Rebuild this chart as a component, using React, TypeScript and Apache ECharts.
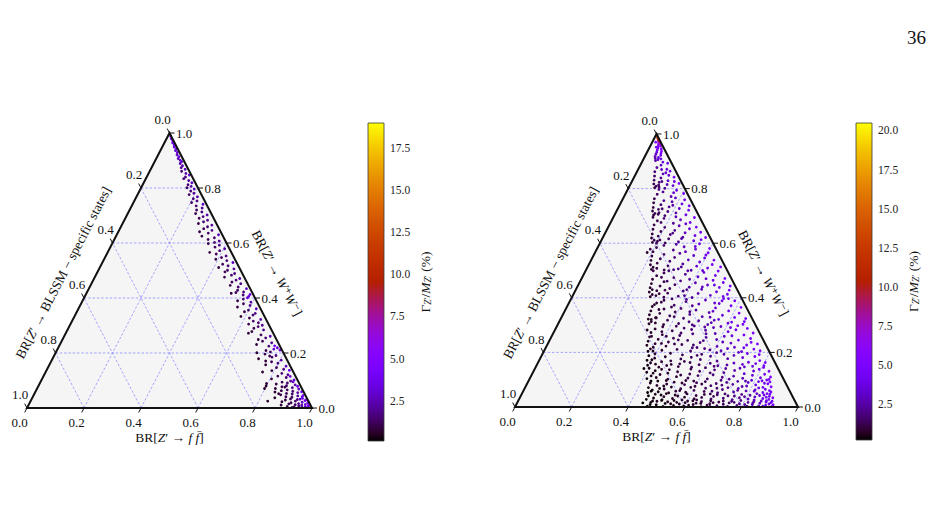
import React, { useEffect, useRef } from 'react';
import * as echarts from 'echarts';

// ---- axis / tick data ----
const ternaryTicks = [0, 0.2, 0.4, 0.6, 0.8, 1.0];
const ternaryTickLabels = ['0.0', '0.2', '0.4', '0.6', '0.8', '1.0'];
const ternaryGridValues = [0.2, 0.4, 0.6, 0.8];
const leftCbTicks = [2.5, 5.0, 7.5, 10.0, 12.5, 15.0, 17.5];
const rightCbTicks = [2.5, 5.0, 7.5, 10.0, 12.5, 15.0, 17.5, 20.0];
const leftCbRange = [0.11, 18.96];
const rightCbRange = [0.23, 20.47];
const pageNumber = '36';

// ---- points: [BR(Z'->BLSSM specific states), BR(Z'->W+W-), Gamma/M (%)] ----
const leftPoints: number[][] = [
  [0.002,0.988,4.3],[0.004,0.979,3.9],[0.003,0.971,4.1],[0.007,0.964,3.5],[0.005,0.957,3.8],[0.009,0.949,3.2],[0.006,0.942,3.6],[0.011,0.936,2.9],[0.008,0.929,3.3],[0.013,0.921,2.7],[0.01,0.914,3.0],[0.016,0.907,2.5],[0.012,0.901,2.9],
  [0.009,0.896,3.0],[0.018,0.889,2.2],[0.014,0.881,2.5],[0.022,0.874,1.9],[0.011,0.868,2.7],[0.027,0.861,1.7],[0.016,0.853,2.3],[0.007,0.847,3.1],[0.024,0.84,1.8],[0.033,0.834,1.5],[0.019,0.827,2.1],[0.012,0.819,2.6],[0.029,0.812,1.6],[0.021,0.806,2.0],[0.038,0.801,1.3],
  [0.015,0.796,2.4],[0.031,0.789,1.6],[0.024,0.781,1.9],[0.043,0.776,1.3],[0.018,0.768,2.2],[0.036,0.761,1.5],[0.027,0.753,1.8],[0.049,0.747,1.2],[0.012,0.741,2.7],[0.039,0.735,1.4],[0.022,0.727,2.0],[0.045,0.72,1.3],[0.03,0.713,1.7],[0.055,0.707,1.1],[0.017,0.702,2.3],
  [0.034,0.696,1.6],[0.051,0.69,1.2],[0.025,0.683,1.9],[0.042,0.677,1.4],[0.063,0.671,1.0],[0.019,0.665,2.2],[0.037,0.659,1.5],[0.054,0.652,1.2],[0.028,0.646,1.8],[0.074,0.641,0.9],[0.046,0.636,1.3],[0.013,0.63,2.6],[0.074,0.625,1.0],[0.033,0.619,1.6],[0.058,0.613,1.1],[0.022,0.607,2.0],[0.041,0.602,1.4],
  [0.065,0.598,1.0],[0.029,0.592,1.7],[0.048,0.585,1.3],[0.017,0.579,2.3],[0.076,0.566,0.9],[0.038,0.572,1.5],[0.056,0.56,1.2],[0.025,0.553,1.9],[0.044,0.547,1.4],[0.067,0.541,1.0],[0.031,0.536,1.6],[0.013,0.529,2.6],[0.052,0.523,1.2],[0.036,0.517,1.5],[0.072,0.511,0.9],[0.021,0.506,2.1],[0.046,0.501,1.3],
  [0.058,0.495,1.1],[0.027,0.489,1.8],[0.041,0.483,1.4],[0.069,0.476,1.0],[0.018,0.471,2.3],[0.034,0.465,1.6],[0.052,0.458,1.2],[0.024,0.452,1.9],[0.064,0.446,1.0],[0.039,0.44,1.5],[0.013,0.434,2.8],[0.047,0.428,1.3],[0.029,0.422,1.7],[0.075,0.417,0.9],[0.036,0.411,1.5],[0.019,0.406,3.4],[0.011,0.413,3.9],[0.026,0.401,3.0],[0.057,0.42,1.1],
  [0.043,0.396,1.4],[0.066,0.39,1.0],[0.022,0.385,2.1],[0.051,0.379,1.2],[0.031,0.373,1.7],[0.078,0.367,0.9],[0.015,0.361,2.6],[0.045,0.356,1.3],[0.062,0.35,1.0],[0.027,0.344,1.8],[0.038,0.338,1.5],[0.083,0.333,0.8],[0.056,0.327,1.1],[0.019,0.322,2.3],[0.048,0.316,1.3],[0.033,0.31,1.6],[0.07,0.305,1.0],[0.024,0.301,2.0],
  [0.087,0.272,0.8],[0.041,0.296,1.4],[0.059,0.29,1.1],[0.028,0.284,1.8],[0.072,0.278,0.9],[0.046,0.266,1.3],[0.016,0.261,2.5],[0.035,0.255,1.6],[0.064,0.249,1.0],[0.052,0.243,1.2],[0.023,0.237,2.0],[0.079,0.231,0.9],[0.039,0.225,1.5],[0.012,0.219,3.4],[0.027,0.214,3.0],[0.057,0.209,1.1],[0.044,0.204,1.3],[0.093,0.201,0.8],[0.018,0.226,3.8],[0.007,0.211,4.2],
  [0.067,0.196,1.0],[0.031,0.191,1.7],[0.048,0.185,1.3],[0.098,0.179,0.7],[0.021,0.174,2.2],[0.058,0.168,1.1],[0.038,0.163,1.5],[0.084,0.157,0.8],[0.015,0.152,2.7],[0.051,0.147,1.2],[0.029,0.141,1.8],[0.073,0.136,0.9],[0.108,0.131,0.7],[0.043,0.126,1.4],[0.024,0.121,2.0],[0.062,0.116,1.0],[0.035,0.111,1.6],[0.089,0.106,0.8],[0.012,0.102,3.1],[0.054,0.189,1.2],[0.011,0.137,3.6],[0.077,0.171,0.9],[0.019,0.115,2.9],
  [0.026,0.098,1.9],[0.058,0.094,1.1],[0.115,0.089,0.7],[0.041,0.091,1.4],[0.082,0.087,0.9],[0.017,0.084,2.4],[0.049,0.081,1.3],[0.121,0.08,0.6],[0.067,0.077,1.0],[0.032,0.074,1.7],[0.093,0.071,0.8],[0.012,0.069,2.9],[0.054,0.066,1.2],[0.076,0.063,0.9],[0.037,0.061,1.6],[0.101,0.058,0.7],[0.022,0.056,2.2],[0.063,0.053,1.1],[0.044,0.051,1.4],[0.086,0.048,0.9],[0.008,0.046,3.6],[0.028,0.044,2.0],[0.071,0.041,1.0],[0.051,0.039,1.3],[0.112,0.037,0.7],[0.016,0.035,3.0],[0.059,0.033,1.2],[0.036,0.031,1.7],[0.079,0.029,0.9],[0.143,0.025,0.6],[0.011,0.027,3.5],[0.046,0.025,1.5],[0.094,0.023,0.8],[0.024,0.021,2.6],[0.064,0.019,1.1],[0.006,0.018,4.2],[0.039,0.016,1.8],[0.074,0.015,1.0],[0.017,0.013,3.3],[0.053,0.012,1.4],[0.103,0.011,0.8],[0.031,0.01,2.3],[0.009,0.008,4.4],[0.043,0.007,1.7],[0.084,0.006,1.0],[0.021,0.005,3.1],[0.061,0.004,1.3],[0.004,0.003,5.0],[0.034,0.003,2.3],[0.013,0.002,4.0],[0.069,0.002,1.2],[0.007,0.059,4.0],[0.014,0.041,3.7],[0.004,0.031,4.8],[0.003,0.012,5.2],[0.002,0.022,5.4],[0.026,0.032,2.6],[0.091,0.052,0.8],[0.057,0.076,1.1],[0.131,0.071,0.6],[0.019,0.095,2.7],[0.011,0.079,3.4],
];

const rightPoints: number[][] = [
  [0.531,0.003,0.3],[0.512,0.017,0.4],[0.497,0.008,0.4],[0.488,0.021,0.6],[0.476,0.002,0.5],[0.463,0.013,0.4],[0.451,0.019,0.7],[0.437,0.006,0.6],[0.426,0.024,0.5],[0.414,0.011,0.8],[0.402,0.004,0.7],[0.391,0.016,0.6],[0.379,0.022,0.9],[0.366,0.009,0.8],[0.353,0.014,1.0],[0.342,0.001,0.7],[0.331,0.02,1.1],[0.318,0.007,1.0],[0.306,0.012,1.2],[0.297,0.023,0.9],[0.284,0.005,1.4],[0.271,0.018,1.2],[0.259,0.01,1.5],[0.248,0.002,1.7],[0.236,0.015,1.4],[0.224,0.021,1.9],[0.213,0.006,1.8],[0.201,0.012,2.1],[0.19,0.024,2.0],[0.179,0.003,2.4],[0.168,0.017,2.3],[0.157,0.009,2.7],[0.146,0.02,2.8],[0.137,0.004,3.1],[0.128,0.014,3.2],[0.119,0.022,3.4],[0.111,0.007,3.8],[0.104,0.018,3.6],[0.097,0.011,4.1],[0.092,0.002,4.4],[0.088,0.016,4.3],[0.084,0.008,4.7],[0.081,0.021,4.5],[0.518,0.009,0.3],[0.47,0.024,0.5],[0.444,0.012,0.6],[0.383,0.007,0.7],[0.337,0.013,0.9],[0.292,0.016,1.1],[0.253,0.022,1.3],[0.217,0.017,1.6],[0.184,0.009,2.2],[0.152,0.015,2.5],[0.123,0.003,3.5],[0.1,0.023,3.9],[0.541,0.015,0.3],[0.503,0.022,0.5],[0.42,0.017,0.6],[0.36,0.023,0.8],[0.31,0.002,1.0],
  [0.522,0.028,0.4],[0.508,0.041,0.3],[0.494,0.033,0.5],[0.481,0.047,0.6],[0.467,0.027,0.4],[0.455,0.038,0.7],[0.441,0.049,0.6],[0.428,0.031,0.8],[0.412,0.044,0.7],[0.397,0.026,0.9],[0.383,0.036,0.8],[0.368,0.048,1.0],[0.352,0.03,0.9],[0.339,0.042,1.1],[0.323,0.035,1.2],[0.308,0.046,1.0],[0.293,0.029,1.4],[0.279,0.039,1.3],[0.263,0.045,1.5],[0.248,0.032,1.7],[0.234,0.048,1.6],[0.219,0.027,2.0],[0.205,0.04,1.9],[0.19,0.034,2.3],[0.176,0.046,2.2],[0.162,0.029,2.7],[0.148,0.043,2.6],[0.134,0.037,3.1],[0.121,0.049,3.0],[0.109,0.031,3.6],[0.098,0.044,3.8],[0.089,0.028,4.3],[0.082,0.039,4.5],[0.076,0.047,4.8],[0.072,0.034,5.0],[0.085,0.049,4.2],[0.094,0.036,4.0],[0.115,0.042,3.3],[0.142,0.026,2.9],[0.17,0.038,2.4],[0.227,0.041,1.8],[0.286,0.048,1.3],[0.345,0.026,1.0],[0.405,0.04,0.7],[0.462,0.044,0.5],
  [0.505,0.053,0.3],[0.493,0.071,0.5],[0.484,0.062,0.4],[0.478,0.088,0.6],[0.466,0.056,0.5],[0.459,0.079,0.7],[0.448,0.095,0.5],[0.44,0.066,0.8],[0.431,0.052,0.6],[0.422,0.084,0.9],[0.411,0.073,0.7],[0.403,0.058,1.0],[0.392,0.091,0.8],[0.381,0.067,1.1],[0.37,0.054,0.9],[0.36,0.082,1.2],[0.348,0.097,1.0],[0.337,0.061,1.3],[0.326,0.076,1.1],[0.314,0.089,1.4],[0.303,0.057,1.2],[0.292,0.069,1.5],[0.281,0.093,1.3],[0.269,0.078,1.6],[0.258,0.052,1.8],[0.246,0.086,1.7],[0.235,0.064,2.0],[0.223,0.098,1.9],[0.212,0.071,2.2],[0.2,0.055,2.4],[0.189,0.083,2.3],[0.177,0.068,2.6],[0.166,0.094,2.5],[0.154,0.059,2.9],[0.143,0.077,3.0],[0.131,0.09,3.1],[0.12,0.063,3.5],[0.109,0.081,3.6],[0.098,0.053,4.0],[0.088,0.072,4.2],[0.079,0.096,4.1],[0.071,0.06,4.6],[0.064,0.085,4.7],[0.058,0.074,5.0],[0.053,0.092,5.2],[0.061,0.099,4.9],[0.068,0.055,4.8],[0.075,0.087,4.4],[0.083,0.065,4.3],[0.093,0.093,3.9],[0.104,0.07,3.8],[0.126,0.058,3.3],[0.138,0.095,2.8],[0.16,0.075,2.7],[0.183,0.061,2.4],[0.207,0.09,2.0],[0.229,0.08,1.9],[0.252,0.069,1.6],[0.275,0.058,1.5],[0.298,0.084,1.2],[0.321,0.095,1.1],[0.343,0.072,1.0],[0.366,0.088,0.9],[0.388,0.06,0.8],[0.417,0.097,0.7],[0.436,0.077,0.6],[0.455,0.068,0.5],[0.472,0.095,0.4],[0.49,0.058,0.4],[0.115,0.098,3.4],
  [0.482,0.104,0.4],[0.471,0.127,0.5],[0.462,0.114,0.6],[0.455,0.142,0.5],[0.447,0.108,0.7],[0.438,0.133,0.6],[0.428,0.119,0.8],[0.419,0.146,0.7],[0.409,0.102,0.9],[0.398,0.124,0.8],[0.386,0.137,1.0],[0.374,0.111,0.9],[0.361,0.129,1.1],[0.349,0.148,1.0],[0.336,0.106,1.2],[0.322,0.121,1.3],[0.309,0.139,1.2],[0.296,0.115,1.4],[0.282,0.131,1.5],[0.269,0.103,1.6],[0.255,0.144,1.5],[0.241,0.118,1.8],[0.227,0.136,1.9],[0.213,0.109,2.1],[0.199,0.126,2.2],[0.185,0.141,2.3],[0.171,0.113,2.6],[0.157,0.134,2.7],[0.143,0.105,3.0],[0.129,0.122,3.2],[0.116,0.147,3.1],[0.103,0.116,3.5],[0.091,0.132,3.7],[0.079,0.107,4.1],[0.068,0.138,4.2],[0.058,0.12,4.6],[0.049,0.145,4.7],[0.042,0.11,5.0],[0.037,0.131,5.1],[0.052,0.101,4.8],[0.086,0.149,3.6],[0.134,0.142,2.9],[0.192,0.102,2.3],[0.248,0.125,1.7],[0.303,0.146,1.3],[0.356,0.117,1.0],[0.413,0.138,0.8],[0.45,0.124,0.6],[0.474,0.141,0.4],[0.222,0.149,1.9],
  [0.455,0.153,0.5],[0.448,0.171,0.4],[0.44,0.162,0.6],[0.433,0.188,0.5],[0.425,0.157,0.7],[0.417,0.179,0.6],[0.408,0.195,0.8],[0.399,0.166,0.7],[0.388,0.152,0.9],[0.377,0.184,0.8],[0.365,0.169,1.0],[0.352,0.197,0.9],[0.339,0.158,1.1],[0.326,0.176,1.2],[0.313,0.191,1.1],[0.3,0.163,1.3],[0.286,0.182,1.4],[0.272,0.155,1.5],[0.258,0.174,1.6],[0.244,0.193,1.6],[0.23,0.16,1.9],[0.216,0.186,2.0],[0.202,0.168,2.2],[0.188,0.199,2.2],[0.174,0.154,2.5],[0.16,0.177,2.7],[0.146,0.161,2.9],[0.132,0.189,3.0],[0.118,0.156,3.4],[0.105,0.181,3.5],[0.093,0.164,3.8],[0.081,0.196,3.9],[0.07,0.159,4.3],[0.06,0.185,4.4],[0.05,0.17,4.7],[0.041,0.192,4.9],[0.034,0.163,5.1],[0.045,0.151,4.8],[0.11,0.2,3.3],[0.165,0.193,2.5],[0.208,0.151,2.1],[0.262,0.189,1.5],[0.318,0.167,1.1],[0.37,0.156,0.9],[0.43,0.173,0.6],
  [0.428,0.204,0.5],[0.421,0.226,0.6],[0.415,0.213,0.7],[0.409,0.241,0.6],[0.402,0.219,0.8],[0.396,0.257,0.7],[0.389,0.232,0.9],[0.383,0.273,0.7],[0.377,0.208,0.9],[0.37,0.248,1.0],[0.362,0.286,0.8],[0.355,0.223,1.1],[0.347,0.265,1.0],[0.339,0.238,1.2],[0.331,0.294,1.0],[0.322,0.211,1.3],[0.314,0.252,1.2],[0.305,0.279,1.3],[0.296,0.229,1.4],[0.287,0.262,1.5],[0.277,0.205,1.6],[0.268,0.244,1.6],[0.258,0.289,1.6],[0.248,0.218,1.8],[0.238,0.268,1.9],[0.228,0.236,2.0],[0.218,0.297,2.0],[0.207,0.209,2.2],[0.197,0.255,2.3],[0.186,0.281,2.4],[0.175,0.222,2.6],[0.164,0.247,2.7],[0.153,0.291,2.8],[0.142,0.214,3.0],[0.131,0.259,3.1],[0.12,0.234,3.3],[0.109,0.276,3.4],[0.098,0.203,3.7],[0.088,0.245,3.8],[0.078,0.283,3.9],[0.068,0.227,4.2],[0.059,0.264,4.3],[0.05,0.212,4.6],[0.042,0.251,4.7],[0.035,0.288,4.8],[0.028,0.231,5.0],[0.023,0.271,5.1],[0.031,0.206,5.0],[0.064,0.298,4.1],[0.083,0.217,4.0],[0.103,0.261,3.5],[0.125,0.295,3.1],[0.147,0.238,2.9],[0.169,0.206,2.7],[0.191,0.268,2.3],[0.213,0.243,2.1],[0.234,0.284,1.9],[0.256,0.227,1.7],[0.278,0.271,1.5],[0.3,0.246,1.3],[0.321,0.231,1.2],[0.343,0.276,1.0],[0.366,0.233,0.9],[0.388,0.259,0.8],[0.41,0.205,0.6],[0.392,0.282,0.6],[0.336,0.259,1.1],[0.282,0.296,1.4],[0.223,0.214,2.1],[0.158,0.269,2.6],[0.093,0.291,3.6],[0.047,0.237,4.8],[0.115,0.219,3.3],[0.183,0.293,2.4],[0.265,0.217,1.7],
  [0.374,0.305,0.6],[0.368,0.322,0.7],[0.362,0.313,0.8],[0.356,0.338,0.7],[0.35,0.308,0.9],[0.344,0.352,0.8],[0.337,0.327,1.0],[0.331,0.368,0.8],[0.324,0.302,1.1],[0.317,0.343,1.0],[0.309,0.381,0.9],[0.302,0.318,1.2],[0.294,0.359,1.1],[0.286,0.334,1.3],[0.278,0.391,1.1],[0.269,0.306,1.4],[0.26,0.348,1.4],[0.251,0.373,1.5],[0.242,0.325,1.6],[0.233,0.361,1.7],[0.223,0.301,1.9],[0.213,0.339,1.9],[0.203,0.386,2.0],[0.193,0.316,2.2],[0.183,0.355,2.3],[0.173,0.331,2.5],[0.162,0.377,2.6],[0.152,0.309,2.8],[0.141,0.346,2.9],[0.131,0.392,3.0],[0.12,0.321,3.2],[0.11,0.363,3.4],[0.099,0.336,3.6],[0.089,0.379,3.7],[0.079,0.311,3.9],[0.069,0.352,4.1],[0.06,0.328,4.3],[0.051,0.371,4.4],[0.043,0.303,4.6],[0.036,0.344,4.7],[0.029,0.389,4.8],[0.023,0.324,5.0],[0.019,0.365,5.1],[0.047,0.397,4.4],[0.074,0.389,3.9],[0.094,0.307,3.7],[0.125,0.351,3.2],[0.146,0.329,2.9],[0.168,0.302,2.6],[0.188,0.371,2.2],[0.208,0.349,2.0],[0.229,0.312,1.8],[0.247,0.396,1.5],[0.272,0.331,1.3],[0.291,0.384,1.1],[0.313,0.357,1.0],[0.34,0.327,0.8],[0.358,0.321,0.7],[0.32,0.375,0.9],[0.264,0.366,1.3],[0.197,0.394,2.1],[0.137,0.318,3.0],[0.064,0.397,4.2],[0.033,0.313,4.9],[0.104,0.381,3.5],
  [0.32,0.404,0.7],[0.315,0.421,0.8],[0.309,0.412,0.9],[0.304,0.437,0.8],[0.298,0.408,1.0],[0.292,0.452,0.9],[0.286,0.426,1.1],[0.28,0.468,0.9],[0.273,0.402,1.2],[0.266,0.443,1.1],[0.259,0.481,1.0],[0.252,0.417,1.3],[0.244,0.459,1.3],[0.236,0.434,1.4],[0.228,0.491,1.3],[0.22,0.406,1.6],[0.211,0.448,1.6],[0.202,0.474,1.7],[0.193,0.425,1.9],[0.184,0.462,2.0],[0.174,0.401,2.2],[0.165,0.439,2.3],[0.155,0.486,2.3],[0.145,0.416,2.6],[0.135,0.455,2.7],[0.125,0.431,2.9],[0.115,0.477,3.0],[0.105,0.409,3.3],[0.096,0.447,3.4],[0.086,0.493,3.5],[0.077,0.422,3.8],[0.068,0.464,3.9],[0.059,0.438,4.1],[0.051,0.482,4.2],[0.043,0.413,4.5],[0.036,0.456,4.6],[0.029,0.428,4.8],[0.023,0.471,4.9],[0.018,0.443,5.1],[0.033,0.498,4.6],[0.062,0.405,4.1],[0.09,0.47,3.5],[0.118,0.44,3.0],[0.149,0.468,2.5],[0.178,0.43,2.1],[0.207,0.499,1.6],[0.232,0.461,1.5],[0.256,0.428,1.3],[0.283,0.415,1.0],[0.262,0.499,1.1],[0.14,0.499,2.5],[0.197,0.408,2.0],[0.072,0.447,3.9],[0.245,0.475,1.3],[0.3,0.43,0.8],
  [0.266,0.504,0.8],[0.261,0.521,0.9],[0.256,0.512,1.0],[0.251,0.537,0.9],[0.245,0.508,1.1],[0.24,0.553,1.0],[0.234,0.527,1.2],[0.228,0.569,1.1],[0.222,0.502,1.3],[0.215,0.543,1.3],[0.208,0.584,1.2],[0.201,0.517,1.5],[0.194,0.559,1.5],[0.186,0.534,1.7],[0.178,0.592,1.6],[0.17,0.506,1.9],[0.162,0.548,2.0],[0.153,0.575,2.1],[0.145,0.524,2.3],[0.136,0.563,2.4],[0.127,0.501,2.7],[0.118,0.539,2.8],[0.109,0.587,2.8],[0.1,0.516,3.1],[0.091,0.555,3.2],[0.082,0.531,3.5],[0.073,0.578,3.5],[0.065,0.509,3.9],[0.057,0.546,4.0],[0.049,0.598,4.0],[0.042,0.522,4.4],[0.035,0.565,4.5],[0.028,0.538,4.7],[0.022,0.581,4.8],[0.017,0.513,5.0],[0.2,0.6,1.3],[0.156,0.513,2.2],[0.113,0.569,2.9],[0.069,0.588,3.7],[0.233,0.578,1.1],[0.188,0.503,1.8],[0.132,0.596,2.4],[0.087,0.5,3.4],[0.047,0.557,4.3],[0.25,0.566,0.9],
  [0.213,0.603,0.9],[0.208,0.619,1.0],[0.203,0.611,1.1],[0.198,0.634,1.0],[0.193,0.607,1.2],[0.187,0.651,1.1],[0.181,0.626,1.3],[0.175,0.667,1.2],[0.169,0.601,1.4],[0.163,0.643,1.4],[0.156,0.682,1.3],[0.149,0.616,1.6],[0.142,0.658,1.7],[0.135,0.632,1.9],[0.128,0.691,1.8],[0.12,0.605,2.1],[0.112,0.647,2.2],[0.104,0.673,2.3],[0.096,0.622,2.6],[0.088,0.664,2.7],[0.08,0.638,3.0],[0.072,0.686,3.0],[0.064,0.609,3.4],[0.057,0.653,3.5],[0.05,0.628,3.8],[0.043,0.676,3.8],[0.036,0.613,4.2],[0.03,0.659,4.3],[0.024,0.64,4.5],[0.019,0.694,4.6],[0.016,0.621,4.8],[0.165,0.695,1.2],[0.124,0.637,2.0],[0.083,0.697,2.8],[0.061,0.671,3.3],[0.182,0.612,1.2],[0.146,0.676,1.5],[0.103,0.617,2.4],
  [0.159,0.703,1.0],[0.155,0.718,1.1],[0.151,0.709,1.2],[0.146,0.731,1.1],[0.141,0.706,1.3],[0.136,0.748,1.2],[0.131,0.724,1.4],[0.126,0.763,1.3],[0.12,0.701,1.6],[0.114,0.741,1.6],[0.108,0.779,1.5],[0.102,0.716,1.9],[0.096,0.756,2.0],[0.089,0.733,2.2],[0.083,0.788,2.2],[0.076,0.711,2.6],[0.069,0.752,2.7],[0.063,0.771,2.8],[0.056,0.727,3.2],[0.05,0.766,3.3],[0.044,0.704,3.7],[0.038,0.744,3.8],[0.032,0.794,3.8],[0.026,0.721,4.2],[0.021,0.759,4.3],[0.016,0.737,4.6],[0.013,0.782,4.7],[0.093,0.797,1.9],[0.117,0.726,1.7],[0.073,0.739,2.6],[0.047,0.785,3.4],[0.135,0.712,1.4],
  [0.105,0.803,1.2],[0.101,0.817,1.3],[0.097,0.809,1.4],[0.093,0.831,1.4],[0.088,0.806,1.6],[0.084,0.846,1.6],[0.079,0.823,1.8],[0.075,0.862,1.8],[0.07,0.801,2.1],[0.065,0.839,2.2],[0.06,0.877,2.2],[0.055,0.815,2.6],[0.05,0.854,2.7],[0.045,0.829,3.0],[0.041,0.886,3.0],[0.036,0.811,3.4],[0.032,0.849,3.5],[0.028,0.871,3.6],[0.024,0.826,4.0],[0.02,0.864,4.1],[0.017,0.842,4.4],[0.014,0.893,4.4],[0.011,0.819,4.8],[0.047,0.87,2.9],[0.068,0.826,2.1],[0.029,0.897,3.7],[0.086,0.813,1.5],[0.038,0.858,3.3],
  [0.052,0.903,2.5],[0.049,0.911,2.7],[0.046,0.918,2.9],[0.042,0.906,3.2],[0.039,0.926,3.2],[0.036,0.914,3.5],[0.033,0.933,3.6],[0.03,0.909,3.9],[0.027,0.941,4.0],[0.024,0.922,4.3],[0.021,0.948,4.5],[0.019,0.93,4.7],[0.016,0.955,5.0],[0.014,0.937,5.2],[0.012,0.962,5.6],[0.01,0.946,5.9],[0.008,0.968,6.5],[0.007,0.957,6.8],[0.006,0.974,7.6],[0.005,0.965,7.9],[0.004,0.98,9.0],[0.003,0.976,10.2],[0.003,0.985,11.6],[0.002,0.99,13.2],[0.002,0.982,12.0],[0.001,0.994,14.8],[0.025,0.952,4.2],[0.018,0.97,5.3],
];

// ---- styling ----
const FONT = '"Liberation Serif", "DejaVu Serif", serif';
const INK = '#111111';
const GRID_BLUE = '#8383ff';

function gnuplotColor(t: number): string {
  const r = Math.sqrt(t);
  const g = t * t * t;
  const b = Math.max(0, Math.sin(2 * Math.PI * t));
  return `rgb(${Math.round(r * 255)},${Math.round(g * 255)},${Math.round(b * 255)})`;
}
const gnuplotStops: string[] = [];
for (let i = 0; i <= 48; i++) gnuplotStops.push(gnuplotColor(i / 48));

const richStyles = {
  n: { fontFamily: FONT, fontSize: 13.5, fill: INK, color: INK },
  i: { fontFamily: FONT, fontSize: 13.5, fontStyle: 'italic', fill: INK, color: INK },
  s: { fontFamily: FONT, fontSize: 9.5, fontStyle: 'italic', fill: INK, color: INK, padding: [6, 0, 0, 0] },
  sn: { fontFamily: FONT, fontSize: 9.5, fill: INK, color: INK, padding: [6, 0, 0, 0] },
};

const toCart = (p: number[]) => [1 - p[0] - p[1] / 2, p[1], p[2]];

function unit(a: number[], b: number[]) {
  const dx = b[0] - a[0], dy = b[1] - a[1];
  const l = Math.hypot(dx, dy);
  return [dx / l, dy / l];
}

const backgroundRenderer = (params: any, api: any) => {
  const P = (ff: number, ww: number) => api.coord([ff + ww / 2, ww]);
  const children: any[] = [
    { type: 'polygon', shape: { points: [P(0, 0), P(1, 0), P(0, 1)] }, style: { fill: '#f5f5f5' } },
  ];
  ternaryGridValues.forEach((t) => {
    const segs = [
      [P(0, t), P(1 - t, t)],
      [P(t, 0), P(t, 1 - t)],
      [P(1 - t, 0), P(0, 1 - t)],
    ];
    segs.forEach(([a, b]) => {
      children.push({
        type: 'line',
        shape: { x1: a[0], y1: a[1], x2: b[0], y2: b[1] },
        style: { stroke: GRID_BLUE, lineWidth: 0.7, lineDash: [2.5, 1.8] },
      });
    });
  });
  return { type: 'group', children };
};

const frameRenderer = (params: any, api: any) => {
  const P = (ff: number, ww: number) => api.coord([ff + ww / 2, ww]);
  const A = P(0, 0), B = P(1, 0), C = P(0, 1);
  const children: any[] = [
    { type: 'polygon', shape: { points: [A, B, C] }, style: { fill: 'none', stroke: INK, lineWidth: 2, lineJoin: 'miter' } },
  ];
  const dB = unit(C, A);
  const dL = unit(B, C);
  const tickLen = 5;
  const tickStyle = { stroke: INK, lineWidth: 1 };
  const labelEl = (text: string, x: number, y: number, align: string) => ({
    type: 'text',
    x, y,
    style: { text, x: 0, y: 0, fill: INK, font: `13px ${FONT}`, textAlign: align, textVerticalAlign: 'middle' },
  });
  ternaryTicks.forEach((t, i) => {
    const lab = ternaryTickLabels[i];
    const pb = P(t, 0);
    children.push({ type: 'line', shape: { x1: pb[0], y1: pb[1], x2: pb[0] + dB[0] * tickLen, y2: pb[1] + dB[1] * tickLen }, style: tickStyle });
    children.push(labelEl(lab, pb[0] + dB[0] * 16, pb[1] + dB[1] * 16, 'center'));
    const pr = P(1 - t, t);
    children.push({ type: 'line', shape: { x1: pr[0], y1: pr[1], x2: pr[0] + tickLen, y2: pr[1] }, style: tickStyle });
    children.push(labelEl(lab, pr[0] + 6.5, pr[1], 'left'));
    const pl = P(0, 1 - t);
    children.push({ type: 'line', shape: { x1: pl[0], y1: pl[1], x2: pl[0] + dL[0] * tickLen, y2: pl[1] + dL[1] * tickLen }, style: tickStyle });
    children.push(labelEl(lab, pl[0] + dL[0] * 15, pl[1] + dL[1] * 15, 'center'));
  });
  const mb = [(A[0] + B[0]) / 2, (A[1] + B[1]) / 2];
  children.push({
    type: 'text', x: mb[0], y: mb[1] + 29,
    style: { text: '{n|BR[}{i|Z}{n|′ → }{i|f f̄}{n|]}', rich: richStyles, textAlign: 'center', textVerticalAlign: 'middle' },
  });
  const tl = unit(A, C);
  const nl = [tl[1], -tl[0]];
  const ml = [(A[0] + C[0]) / 2, (A[1] + C[1]) / 2];
  const angL = Math.atan2(-(C[1] - A[1]), C[0] - A[0]);
  children.push({
    type: 'text',
    x: ml[0] + nl[0] * 30 - tl[0] * 18, y: ml[1] + nl[1] * 30 - tl[1] * 18,
    rotation: angL,
    style: { text: '{n|BR[}{i|Z}{n|′ → BLSSM − specific states]}', rich: richStyles, textAlign: 'center', textVerticalAlign: 'middle' },
  });
  const tr = unit(C, B);
  const nr = [-tr[1], tr[0]];
  const nrOut = nr[0] > 0 ? nr : [-nr[0], -nr[1]];
  const mr = [(B[0] + C[0]) / 2, (B[1] + C[1]) / 2];
  const angR = Math.atan2(-(B[1] - C[1]), B[0] - C[0]);
  children.push({
    type: 'text',
    x: mr[0] + nrOut[0] * 31 + tr[0] * 19, y: mr[1] + nrOut[1] * 31 + tr[1] * 19,
    rotation: angR,
    style: { text: '{n|BR[}{i|Z}{n|′ → }{i|W}{n|⁺}{i|W}{n|⁻]}', rich: richStyles, textAlign: 'center', textVerticalAlign: 'middle' },
  });
  return { type: 'group', children };
};

const makeColorbarRenderer = (range: number[]) => (params: any, api: any) => {
  const p0 = api.coord([0, range[1]]);
  const p1 = api.coord([1, range[0]]);
  const grad = new echarts.graphic.LinearGradient(0, 1, 0, 0,
    gnuplotStops.map((c, i) => ({ offset: i / (gnuplotStops.length - 1), color: c })));
  return {
    type: 'group',
    children: [
      { type: 'rect', shape: { x: p0[0], y: p0[1], width: p1[0] - p0[0], height: p1[1] - p0[1] }, style: { fill: grad, stroke: '#3a3a3a', lineWidth: 0.8 } },
      {
        type: 'text', x: p1[0] + 41, y: (p0[1] + p1[1]) / 2, rotation: Math.PI / 2,
        style: { text: '{n|Γ}{s|Z}{sn|′}{n|/}{i|M}{s|Z}{sn|′}{n| (%)}', rich: richStyles, textAlign: 'center', textVerticalAlign: 'middle' },
      },
    ],
  };
};

function colorbarAxis(gridIndex: number, range: number[], ticks: number[]) {
  return {
    gridIndex, type: 'value', min: range[0], max: range[1], position: 'right',
    axisLine: { show: false },
    splitLine: { show: false },
    axisTick: { show: true, length: 3.5, customValues: ticks, lineStyle: { color: '#222', width: 0.8 } },
    axisLabel: { show: true, customValues: ticks, margin: 6, formatter: (v: number) => v.toFixed(1), fontFamily: FONT, fontSize: 11.5, color: '#222' },
  };
}

const hiddenAxis = (gridIndex: number) => ({ gridIndex, type: 'value', min: 0, max: 1, show: false });

export default function App() {
  const ref = useRef<HTMLDivElement>(null);
  useEffect(() => {
    if (!ref.current) return;
    const chart = echarts.init(ref.current, null, { renderer: 'svg' });
    const option: any = {
      animation: false,
      backgroundColor: '#ffffff',
      grid: [
        { left: 27, top: 133, width: 285, height: 275 },
        { left: 515, top: 134, width: 283, height: 273 },
        { left: 368, top: 123, width: 16, height: 318 },
        { left: 856, top: 123, width: 16, height: 317 },
      ],
      xAxis: [hiddenAxis(0), hiddenAxis(1), hiddenAxis(2), hiddenAxis(3)],
      yAxis: [
        hiddenAxis(0), hiddenAxis(1),
        colorbarAxis(2, leftCbRange, leftCbTicks),
        colorbarAxis(3, rightCbRange, rightCbTicks),
      ],
      visualMap: [
        { type: 'continuous', show: false, seriesIndex: 1, dimension: 2, min: leftCbRange[0], max: leftCbRange[1], inRange: { color: gnuplotStops } },
        { type: 'continuous', show: false, seriesIndex: 4, dimension: 2, min: rightCbRange[0], max: rightCbRange[1], inRange: { color: gnuplotStops } },
      ],
      graphic: [
        { type: 'text', left: 907, top: 28, style: { text: pageNumber, font: `19px ${FONT}`, fill: '#111' } },
      ],
      series: [
        { type: 'custom', xAxisIndex: 0, yAxisIndex: 0, z: 1, silent: true, data: [[0.5, 0.5]], renderItem: backgroundRenderer },
        { type: 'scatter', xAxisIndex: 0, yAxisIndex: 0, z: 2, symbolSize: 2.8, silent: true, itemStyle: { opacity: 1 }, data: leftPoints.map(toCart) },
        { type: 'custom', xAxisIndex: 0, yAxisIndex: 0, z: 3, silent: true, data: [[0.5, 0.5]], renderItem: frameRenderer },
        { type: 'custom', xAxisIndex: 1, yAxisIndex: 1, z: 1, silent: true, data: [[0.5, 0.5]], renderItem: backgroundRenderer },
        { type: 'scatter', xAxisIndex: 1, yAxisIndex: 1, z: 2, symbolSize: 2.8, silent: true, itemStyle: { opacity: 1 }, data: rightPoints.map(toCart) },
        { type: 'custom', xAxisIndex: 1, yAxisIndex: 1, z: 3, silent: true, data: [[0.5, 0.5]], renderItem: frameRenderer },
        { type: 'custom', xAxisIndex: 2, yAxisIndex: 2, z: 1, silent: true, data: [[0.5, 5]], renderItem: makeColorbarRenderer(leftCbRange) },
        { type: 'custom', xAxisIndex: 3, yAxisIndex: 3, z: 1, silent: true, data: [[0.5, 5]], renderItem: makeColorbarRenderer(rightCbRange) },
      ],
    };
    chart.setOption(option);
    return () => chart.dispose();
  }, []);
  return <div ref={ref} style={{ position: 'fixed', left: 0, top: 0, width: 941, height: 518, background: '#fff' }} />;
}
